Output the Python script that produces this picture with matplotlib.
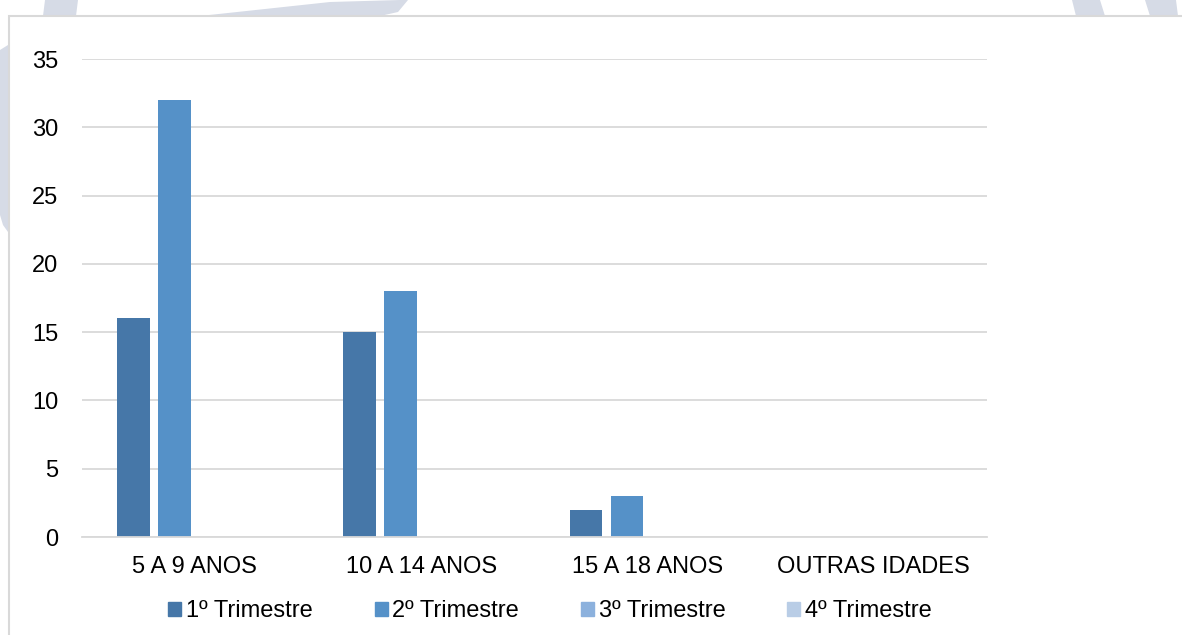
import matplotlib.pyplot as plt
from matplotlib.patches import Rectangle, Polygon
import numpy as np

plt.rcParams['font.family'] = ['Liberation Sans', 'DejaVu Sans']

categorias = ['5 A 9 ANOS', '10 A 14 ANOS', '15 A 18 ANOS', 'OUTRAS IDADES']
series = ['1º Trimestre', '2º Trimestre', '3º Trimestre', '4º Trimestre']
tri1 = [16, 15, 2, 0]
tri2 = [32, 18, 3, 0]
tri3 = [0, 0, 0, 0]
tri4 = [0, 0, 0, 0]
valores = [tri1, tri2, tri3, tri4]
cores = ['#4677A8', '#5591C8', '#8CB1DD', '#B9CDE6']
yticks = [0, 5, 10, 15, 20, 25, 30, 35]

W, H = 1182, 635
fig = plt.figure(figsize=(W / 100, H / 100), dpi=100)

# fundo: marca d'agua e moldura do grafico
bg = fig.add_axes([0, 0, 1, 1], zorder=0)
bg.set_xlim(0, W)
bg.set_ylim(H, 0)
bg.axis('off')
marca = '#D6DBE6'
bg.add_patch(Polygon([(45, 0), (78, 0), (76, 16), (43, 16)], color=marca, lw=0))
bg.add_patch(Polygon([(200, 16), (330, 2), (400, 0), (408, 0), (398, 12), (380, 16)], color=marca, lw=0))
bg.add_patch(Polygon([(1072, 0), (1100, 0), (1105, 16), (1076, 16)], color=marca, lw=0))
bg.add_patch(Polygon([(1145, 0), (1176, 0), (1178, 16), (1150, 16)], color=marca, lw=0))
bg.add_patch(Polygon([(0, 50), (8, 45), (8, 232), (3, 225), (0, 215)], color=marca, lw=0))
bg.add_patch(Rectangle((8.5, 15.5), W, H, facecolor='white', edgecolor='#D9D9D9', lw=1.5))

ax = fig.add_axes([81.7 / W, 1 - 537 / H, (986.7 - 81.7) / W, (537 - 59) / H], zorder=1)
ax.set_facecolor('none')

x = np.arange(len(categorias))
passo = 0.181
largura = 0.143
for k, (nome, vals) in enumerate(zip(series, valores)):
    ax.bar(x + (k - 1.5) * passo, vals, largura, color=cores[k], label=nome, zorder=2)

ax.set_xlim(-0.5, len(categorias) - 0.5)
ax.set_ylim(0, 35)
ax.set_yticks(yticks)
ax.set_xticks(x)
ax.set_xticklabels(categorias)
ax.grid(axis='y', color='#D9D9D9', lw=1.3, zorder=0)
ax.set_axisbelow(True)
for s in ['top', 'right', 'left']:
    ax.spines[s].set_visible(False)
ax.spines['bottom'].set_color('#D9D9D9')
ax.spines['bottom'].set_linewidth(1.3)
ax.tick_params(axis='both', length=0, labelsize=17, colors='black')
ax.tick_params(axis='x', pad=14)
ax.tick_params(axis='y', pad=17)

handles = [Rectangle((0, 0), 1, 1, color=c) for c in cores]
fig.legend(handles, series, loc='center', bbox_to_anchor=(550 / W, 1 - 611 / H),
           ncol=4, frameon=False, fontsize=17, handlelength=0.55, handleheight=0.55,
           handletextpad=0.2, columnspacing=2.62)

fig.savefig('out.png', dpi=100)
